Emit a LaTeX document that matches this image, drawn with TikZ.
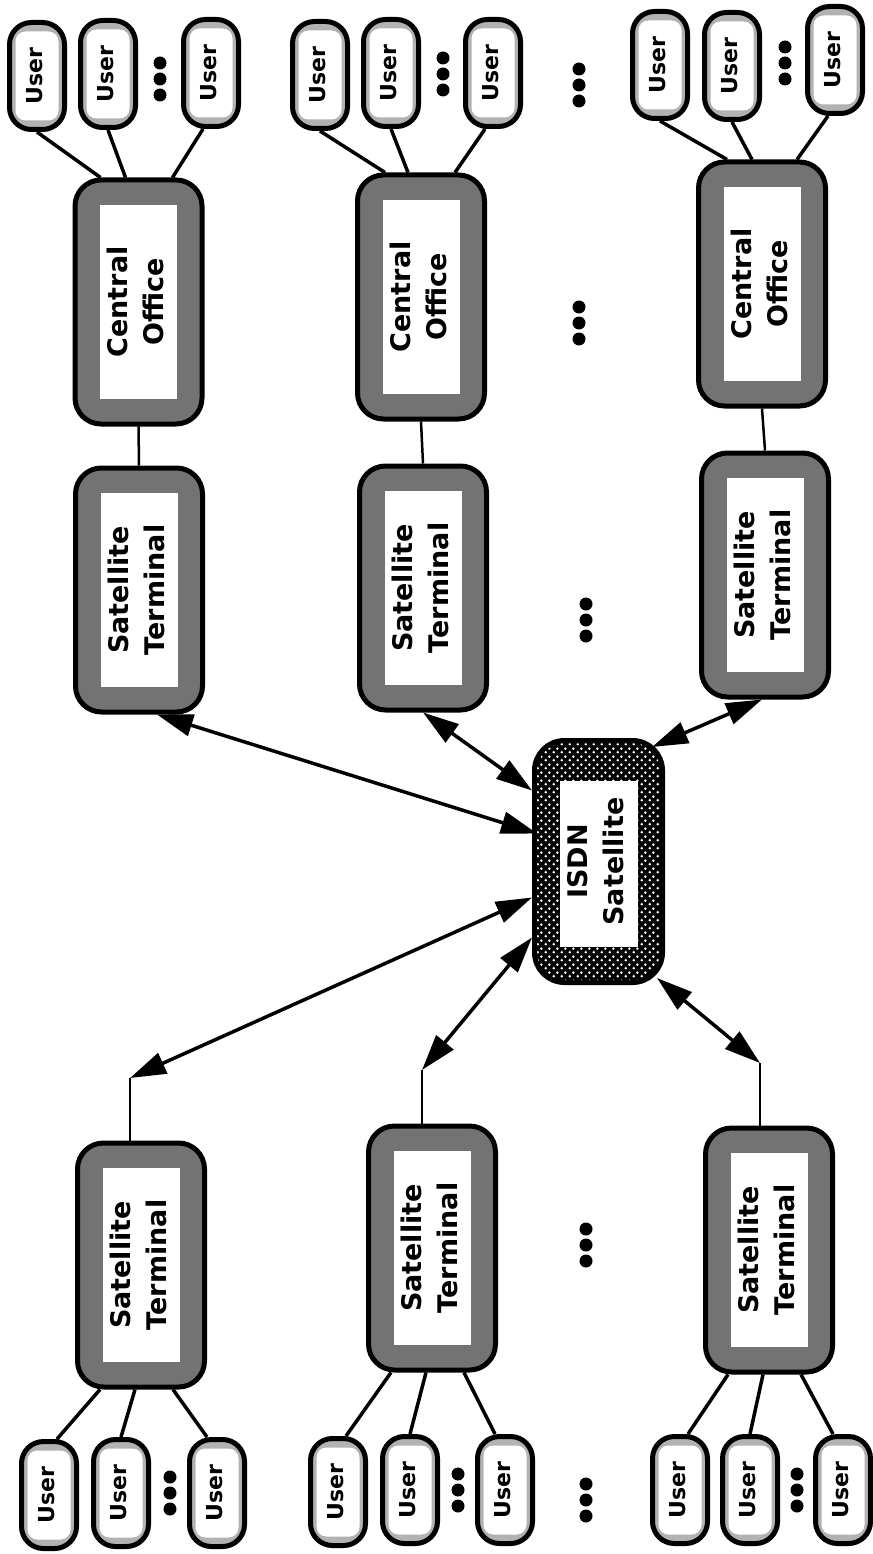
\documentclass[tikz,border=0pt]{standalone}
\usepackage{fontspec}
\setmainfont{DejaVu Sans}
\usepackage{graphicx}
\usetikzlibrary{arrows.meta,patterns}

\pgfdeclarepatternformonly{isdndots}{\pgfqpoint{0pt}{0pt}}{\pgfqpoint{8pt}{8pt}}{\pgfqpoint{8pt}{8pt}}{%
  \pgfpathcircle{\pgfqpoint{2pt}{2pt}}{1.5pt}%
  \pgfpathcircle{\pgfqpoint{6pt}{6pt}}{1.5pt}%
  \pgfusepath{fill}}

\newcommand\rottext[1]{\rotatebox{90}{\begin{tabular}{@{}c@{}}#1\end{tabular}}}

\tikzset{
  bigbox/.style={rounded corners=26pt, draw=black, line width=5pt, fill=black!55,
    minimum width=127pt, minimum height=244pt, inner sep=0pt,
    font=\fontsize{27}{36}\selectfont\bfseries,
    path picture={\fill[white, sharp corners] ([shift={(25pt,25pt)}]path picture bounding box.south west)
       rectangle ([shift={(-25pt,-25pt)}]path picture bounding box.north east);}},
  isdnbox/.style={rounded corners=30pt, draw=black, line width=5pt,
    preaction={fill=black}, pattern=isdndots, pattern color=white,
    minimum width=128pt, minimum height=242pt, inner sep=0pt,
    font=\fontsize{27}{36}\selectfont\bfseries,
    path picture={\fill[white, sharp corners] ([shift={(25pt,36pt)}]path picture bounding box.south west)
       rectangle ([shift={(-25pt,-40pt)}]path picture bounding box.north east);}},
  userbox/.style={rounded corners=22pt, draw=black, line width=5pt, fill=black!30,
    minimum width=55pt, minimum height=107pt, inner sep=0pt,
    font=\fontsize{22}{26}\selectfont\bfseries,
    path picture={\fill[white, rounded corners=10pt] ([shift={(6pt,9pt)}]path picture bounding box.south west)
       rectangle ([shift={(-6pt,-9pt)}]path picture bounding box.north east);}},
  ulink/.style={line width=3.5pt},
  thinlink/.style={line width=2.5pt},
  biarrow/.style={line width=3.5pt, {Triangle[length=36pt,width=22pt]}-{Triangle[length=36pt,width=22pt]}},
  dotstack/.pic={\fill (0,-16) circle (6.5pt) (0,0) circle (6.5pt) (0,16) circle (6.5pt);}
}

\begin{document}
\begin{tikzpicture}[x=1pt,y=-1pt]
\useasboundingbox (0,0) rectangle (872,1554);

% ---------- top row ----------
\node[bigbox] (coA) at (138.5,302) {\rottext{Central\\Office}};
\node[bigbox] (stAt) at (139,590) {\rottext{Satellite\\Terminal}};
\node[bigbox] (coB) at (421,297) {\rottext{Central\\Office}};
\node[bigbox] (stBt) at (423,588) {\rottext{Satellite\\Terminal}};
\node[bigbox] (coC) at (762,284) {\rottext{Central\\Office}};
\node[bigbox] (stCt) at (765,575) {\rottext{Satellite\\Terminal}};

\node[userbox] (uA1) at (37,76) {\rottext{User}};
\node[userbox] (uA2) at (108,74) {\rottext{User}};
\node[userbox] (uA3) at (211,73) {\rottext{User}};
\node[userbox] (uB1) at (320,75) {\rottext{User}};
\node[userbox] (uB2) at (391,73) {\rottext{User}};
\node[userbox] (uB3) at (493,73) {\rottext{User}};
\node[userbox] (uC1) at (660,65) {\rottext{User}};
\node[userbox] (uC2) at (732,66) {\rottext{User}};
\node[userbox] (uC3) at (835,60) {\rottext{User}};

% ---------- ISDN satellite ----------
\node[isdnbox] (isdn) at (598.5,861.5) {\rottext{ISDN\\Satellite}};

% ---------- bottom row ----------
\node[bigbox] (stAb) at (141,1265) {\rottext{Satellite\\Terminal}};
\node[bigbox] (stBb) at (432,1248) {\rottext{Satellite\\Terminal}};
\node[bigbox] (stCb) at (769,1250) {\rottext{Satellite\\Terminal}};

\node[userbox] (vA1) at (49,1495) {\rottext{User}};
\node[userbox] (vA2) at (121,1493) {\rottext{User}};
\node[userbox] (vA3) at (217,1493) {\rottext{User}};
\node[userbox] (vB1) at (338,1492) {\rottext{User}};
\node[userbox] (vB2) at (410,1490) {\rottext{User}};
\node[userbox] (vB3) at (505,1490) {\rottext{User}};
\node[userbox] (vC1) at (680,1490) {\rottext{User}};
\node[userbox] (vC2) at (750,1490) {\rottext{User}};
\node[userbox] (vC3) at (843,1490) {\rottext{User}};

% ---------- user links ----------
\draw[ulink] (uA1.south) -- ([xshift=-38pt]coA.north);
\draw[ulink] (uA2.south) -- ([xshift=-13pt]coA.north);
\draw[ulink] ([xshift=-8pt]uA3.south) -- ([xshift=34pt]coA.north);
\draw[ulink] (uB1.south) -- ([xshift=-36pt]coB.north);
\draw[ulink] (uB2.south) -- ([xshift=-13pt]coB.north);
\draw[ulink] ([xshift=-8pt]uB3.south) -- ([xshift=34pt]coB.north);
\draw[ulink] (uC1.south) -- ([xshift=-35pt]coC.north);
\draw[ulink] (uC2.south) -- ([xshift=-10pt]coC.north);
\draw[ulink] ([xshift=-7pt]uC3.south) -- ([xshift=35pt]coC.north);

\draw[ulink] ([xshift=8pt]vA1.north) -- ([xshift=-41pt]stAb.south);
\draw[ulink] (vA2.north) -- ([xshift=-6pt]stAb.south);
\draw[ulink] ([xshift=-10pt]vA3.north) -- ([xshift=32pt]stAb.south);
\draw[ulink] ([xshift=8pt]vB1.north) -- ([xshift=-41pt]stBb.south);
\draw[ulink] (vB2.north) -- ([xshift=-6pt]stBb.south);
\draw[ulink] ([xshift=-10pt]vB3.north) -- ([xshift=32pt]stBb.south);
\draw[ulink] ([xshift=8pt]vC1.north) -- ([xshift=-41pt]stCb.south);
\draw[ulink] (vC2.north) -- ([xshift=-6pt]stCb.south);
\draw[ulink] ([xshift=-10pt]vC3.north) -- ([xshift=32pt]stCb.south);

% ---------- CO to terminal ----------
\draw[thinlink] (coA.south) -- (stAt.north);
\draw[thinlink] (coB.south) -- (stBt.north);
\draw[thinlink] (coC.south) -- (stCt.north);

% ---------- satellite links ----------
\draw[biarrow] ([xshift=5pt,yshift=28pt]isdn.west) -- ([xshift=18pt]stAt.south);
\draw[biarrow] ([yshift=71pt]isdn.west) -- (stBt.south);
\draw[biarrow] ([xshift=-13pt,yshift=-9pt]isdn.north east) -- ([xshift=-3pt]stCt.south);

\coordinate (cA) at (130,1078);
\coordinate (cB) at (422,1070);
\coordinate (cC) at (760,1063);
\draw[biarrow] ([yshift=-36pt]isdn.west) -- (cA);
\draw[biarrow] ([yshift=-76pt]isdn.west) -- (cB);
\draw[biarrow] ([xshift=-8pt,yshift=7pt]isdn.south east) -- (cC);
\draw[thinlink] (cA) -- (cA |- stAb.north);
\draw[thinlink] (cB) -- (cB |- stBb.north);
\draw[thinlink] (cC) -- (cC |- stCb.north);

% ---------- ellipsis dots ----------
\pic at (160,79) {dotstack};
\pic at (443,74) {dotstack};
\pic at (785,63) {dotstack};
\pic at (579,85) {dotstack};
\pic at (579,323) {dotstack};
\pic at (586,620) {dotstack};
\pic at (170,1493) {dotstack};
\pic at (458,1490) {dotstack};
\pic at (797,1490) {dotstack};
\pic at (586,1245) {dotstack};
\pic at (586,1500) {dotstack};
\end{tikzpicture}
\end{document}
